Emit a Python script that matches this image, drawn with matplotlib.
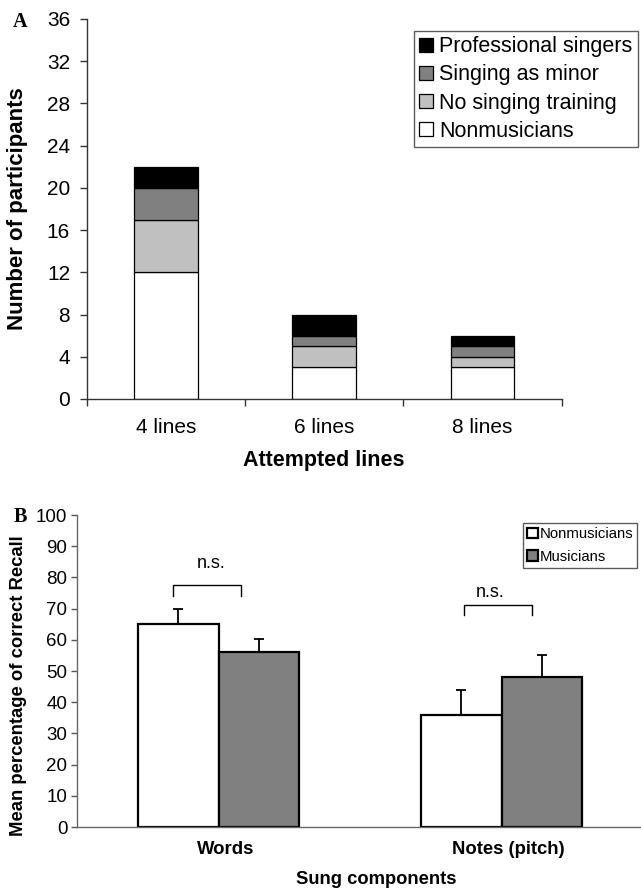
import matplotlib
matplotlib.use("Agg")
import matplotlib.pyplot as plt
from matplotlib.patches import Patch
import matplotlib.transforms as mtransforms
import numpy as np

plt.rcParams['font.family'] = ['Liberation Sans', 'DejaVu Sans']

# ---------------- data ----------------
# Panel A
lines_cats = ["4 lines", "6 lines", "8 lines"]
nonmusicians = [12, 3, 3]
no_singing_training = [5, 2, 1]
singing_as_minor = [3, 1, 1]
professional_singers = [2, 2, 1]
a_yticks = list(range(0, 37, 4))

# Panel B
components = ["Words", "Notes (pitch)"]
recall_nonmusicians = [65, 36]
recall_musicians = [56, 48]
err_nonmusicians = [4.8, 8.0]
err_musicians = [4.3, 7.2]
b_yticks = list(range(0, 101, 10))

W, H = 641, 889
fig = plt.figure(figsize=(W / 100, H / 100), dpi=100)

def fx(px):
    return px / W

def fy(py):
    return 1 - py / H

# ---------------- Panel A ----------------
axA = fig.add_axes([fx(86.7), fy(399), fx(561.6 - 86.7), (399 - 19) / H])
x = np.arange(len(lines_cats))
bw = 0.4
layers = [
    (nonmusicians, "white", "Nonmusicians"),
    (no_singing_training, "#c0c0c0", "No singing training"),
    (singing_as_minor, "#808080", "Singing as minor"),
    (professional_singers, "black", "Professional singers"),
]
bottom = np.zeros(len(x))
handles = []
for vals, col, lab in layers:
    axA.bar(x, vals, bw, bottom=bottom, color=col, edgecolor="black", linewidth=0.9, label=lab)
    bottom += np.array(vals)
    handles.append(Patch(facecolor=col, edgecolor="black", linewidth=0.9, label=lab))

axA.set_xlim(-0.5, 2.5)
axA.set_ylim(0, 36)
axA.set_yticks(a_yticks)
axA.tick_params(axis="y", labelsize=15, length=5, width=1, color="#333333", pad=7)
axA.set_xticks(x)
axA.set_xticklabels(lines_cats)
axA.set_xticks([-0.5, 0.5, 1.5, 2.5], minor=True)
axA.tick_params(axis="x", which="major", length=0, labelsize=15, pad=14)
axA.tick_params(axis="x", which="minor", length=5, width=1, color="#333333")
for s in ["top", "right"]:
    axA.spines[s].set_visible(False)
for s in ["left", "bottom"]:
    axA.spines[s].set_color("#333333")
    axA.spines[s].set_linewidth(1)
axA.set_xlabel("Attempted lines", fontsize=15.5, fontweight="bold")
axA.xaxis.set_label_coords(0.5, -0.134)
axA.set_ylabel("Number of participants", fontsize=16, fontweight="bold")
axA.yaxis.set_label_coords(-0.124, 0.5)

legA = fig.legend(handles=handles[::-1], loc="upper left",
                  bbox_to_anchor=(fx(414), fy(31)), fontsize=15.5,
                  frameon=True, fancybox=False, handlelength=0.65, handleheight=0.65,
                  handletextpad=0.28, borderpad=0.25, labelspacing=0.33, borderaxespad=0)
legA.get_frame().set_edgecolor("#333333")
legA.get_frame().set_linewidth(1)

fig.text(fx(13), fy(22), "A", fontsize=14.5, fontweight="bold", family="Liberation Serif",
         ha="left", va="center")

# ---------------- Panel B ----------------
axB = fig.add_axes([fx(77), fy(827), fx(643 - 77), (827 - 515) / H])
xb = np.arange(len(components))
bwb = 0.284
axB.bar(xb - bwb / 2, recall_nonmusicians, bwb, color="white", edgecolor="black", linewidth=1.6,
        label="Nonmusicians")
axB.bar(xb + bwb / 2, recall_musicians, bwb, color="#808080", edgecolor="black", linewidth=1.6,
        label="Musicians")
axB.errorbar(xb - bwb / 2, recall_nonmusicians, yerr=[np.zeros(2), err_nonmusicians], fmt="none",
             ecolor="black", elinewidth=1.3, capsize=3.3, capthick=1.3)
axB.errorbar(xb + bwb / 2, recall_musicians, yerr=[np.zeros(2), err_musicians], fmt="none",
             ecolor="black", elinewidth=1.3, capsize=3.3, capthick=1.3)

# significance brackets (offsets relative to each category centre)
brackets = [(-0.161, 0.08, 74, 77.6, -0.027, 84.6), (-0.133, 0.108, 68, 71.2, -0.039, 75.2)]
for xc, (x0, x1, ylo, yhi, tx, ty) in zip(xb, brackets):
    axB.plot([xc + x0, xc + x0, xc + x1, xc + x1], [ylo, yhi, yhi, ylo], color="black", lw=1,
             clip_on=False)
    axB.text(xc + tx, ty, "n.s.", ha="center", va="center", fontsize=13)

axB.set_xlim(-0.5, 1.5)
axB.set_ylim(0, 100)
axB.set_yticks(b_yticks)
axB.tick_params(axis="y", labelsize=13.5, length=4, width=1, color="#555555", pad=3)
axB.set_xticks(xb)
axB.set_xticklabels(components, fontweight="bold")
axB.tick_params(axis="x", length=0, labelsize=13.3, pad=10)
offset = mtransforms.ScaledTranslation(0.07, 0, fig.dpi_scale_trans)
for lbl in axB.get_xticklabels():
    lbl.set_transform(lbl.get_transform() + offset)
for s in ["top", "right"]:
    axB.spines[s].set_visible(False)
for s in ["left", "bottom"]:
    axB.spines[s].set_color("#666666")
    axB.spines[s].set_linewidth(1)
axB.set_xlabel("Sung components", fontsize=13.2, fontweight="bold")
axB.xaxis.set_label_coords(0.528, -0.14)
axB.set_ylabel("Mean percentage of correct Recall", fontsize=13.3, fontweight="bold")
axB.yaxis.set_label_coords(-0.088, 0.452)

legB = fig.legend(loc="upper left", handles=axB.get_legend_handles_labels()[0],
                  bbox_to_anchor=(fx(523), fy(523)), fontsize=10.7,
                  frameon=True, fancybox=False, handlelength=0.7, handleheight=0.7,
                  handletextpad=0.1, borderpad=0.3, labelspacing=0.55, borderaxespad=0)
legB.get_frame().set_edgecolor("#333333")
legB.get_frame().set_linewidth(1)

fig.text(fx(14), fy(517), "B", fontsize=14.5, fontweight="bold", family="Liberation Serif",
         ha="left", va="center")

fig.savefig("out.png", dpi=100)
